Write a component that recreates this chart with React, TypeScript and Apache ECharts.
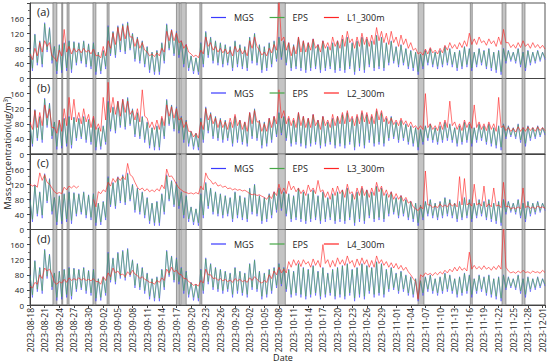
import React, { useEffect, useRef } from "react";
import * as echarts from "echarts";

// time axis: day offset from 2023-08-18 00:00, two samples per day
const startUTC = Date.UTC(2023, 7, 18);
const stepDays = 0.5;
const xMaxDays = 105.5;
const xTickDays = 3;
const yTicks = [0, 40, 80, 120, 160];
const yMax = 200;

const panelLabels = ["(a)", "(b)", "(c)", "(d)"];
const siteNames = ["L1_300m", "L2_300m", "L3_300m", "L4_300m"];

const mgs = [
  80,20, 118,35, 100,30, 148,70, 135,40, 85,12, 90,15, 95,20, 100,15, 98,35,
  95,40, 100,30, 92,25, 95,10, 70,12, 75,25, 140,60, 125,55, 140,70, 145,65,
  150,75, 120,45, 110,40, 100,30, 85,15, 70,10, 75,10, 95,40, 145,75, 130,60,
  125,55, 100,30, 90,20, 60,12, 55,10, 95,30, 125,55, 110,40, 100,35, 95,30,
  90,35, 85,20, 100,30, 90,25, 85,20, 110,40, 120,35, 90,15, 85,20, 95,30,
  100,45, 110,50, 100,35, 95,20, 90,25, 110,20, 100,15, 95,20, 105,25, 90,15,
  100,20, 85,25, 95,15, 100,20, 105,15, 110,25, 95,10, 100,20, 110,15, 105,30,
  100,20, 115,25, 110,20, 95,35, 100,40, 85,30, 90,35, 80,25, 75,20, 70,10,
  65,25, 75,35, 80,30, 70,25, 75,30, 85,35, 80,30, 70,20, 75,25, 85,30,
  80,20, 70,30, 80,35, 75,25, 80,20, 70,15, 75,10, 80,40, 75,45, 70,40,
  80,30, 70,20, 75,35, 70,40, 75,45, 70,50,
];

const eps = [
  78,27, 116,42, 98,38, 145,76, 132,48, 84,20, 88,22, 93,28, 98,24, 96,42,
  93,46, 98,38, 90,32, 93,18, 69,20, 73,32, 137,66, 123,62, 137,76, 142,72,
  147,80, 118,52, 108,47, 98,38, 83,23, 69,18, 73,18, 93,47, 142,80, 128,66,
  122,62, 98,38, 88,28, 59,20, 54,18, 93,38, 122,62, 108,47, 98,42, 93,38,
  88,42, 83,28, 98,38, 88,32, 83,28, 108,47, 118,42, 88,23, 83,28, 93,38,
  98,52, 108,56, 98,42, 93,28, 88,32, 108,28, 98,23, 93,28, 103,32, 88,23,
  98,28, 83,32, 93,23, 98,28, 103,23, 108,32, 93,18, 98,28, 108,23, 103,37,
  98,28, 113,32, 108,28, 93,42, 98,46, 83,37, 88,42, 78,32, 73,28, 69,18,
  64,32, 73,42, 78,37, 69,32, 73,37, 83,42, 78,37, 69,28, 73,32, 83,37,
  78,28, 69,37, 78,42, 73,32, 78,28, 69,23, 73,18, 78,46, 73,50, 69,46,
  78,37, 69,28, 73,42, 69,46, 73,50, 69,55,
];

const l1 = [
  65,50, 80,60, 95,70, 100,85, 95,60, 55,45, 75,60, 130,70, 85,65, 80,70,
  78,68, 80,70, 75,65, 78,60, 62,55, 85,60, 100,80, 120,90, 135,100, 138,105,
  140,110, 110,85, 105,80, 95,75, 70,60, 65,58, 68,60, 80,70, 125,100, 128,100,
  120,95, 100,80, 90,70, 65,58, 62,55, 75,65, 110,85, 95,75, 85,70, 80,68,
  78,65, 75,60, 85,70, 80,65, 75,60, 100,80, 110,85, 75,62, 70,60, 80,68,
  90,75, 210,100, 110,75, 95,60, 85,65, 110,70, 100,70, 95,75, 105,80, 90,70,
  100,80, 95,75, 110,85, 100,80, 115,85, 125,95, 105,80, 110,85, 120,90, 110,85,
  115,90, 135,100, 125,95, 120,90, 125,95, 110,85, 115,90, 105,80, 95,75, 80,65,
  70,62, 78,65, 82,68, 75,65, 80,68, 88,75, 95,80, 90,78, 95,82, 100,85,
  120,90, 105,90, 110,95, 100,88, 105,92, 100,85, 110,90, 130,95, 95,82, 90,80,
  95,82, 100,85, 92,80, 95,82, 90,80, 88,78,
];

const l2 = [
  85,65, 115,70, 110,75, 130,95, 120,70, 70,55, 90,60, 120,75, 150,90, 145,85,
  110,80, 120,85, 105,70, 100,65, 80,60, 150,90, 190,110, 150,105, 140,100, 145,110,
  140,105, 115,90, 120,85, 170,100, 95,70, 85,65, 90,65, 100,75, 130,100, 125,95,
  120,90, 95,70, 85,60, 60,45, 55,42, 85,65, 120,90, 105,80, 95,70, 90,70,
  85,65, 95,70, 105,75, 90,65, 85,60, 110,80, 115,85, 85,60, 80,60, 95,70,
  100,80, 170,95, 115,80, 100,75, 95,70, 110,75, 100,70, 95,70, 105,75, 90,65,
  100,75, 90,70, 105,75, 100,80, 110,80, 115,85, 100,75, 105,80, 115,85, 110,80,
  105,80, 120,90, 115,85, 100,80, 95,78, 90,75, 95,78, 88,72, 85,70, 75,65,
  75,65, 160,70, 80,65, 75,62, 85,65, 90,70, 140,75, 85,65, 80,62, 90,70,
  85,68, 130,70, 85,65, 80,62, 85,65, 80,60, 150,70, 75,62, 70,60, 68,58,
  72,60, 70,60, 72,62, 70,60, 72,62, 70,62,
];

const l3 = [
  120,115, 118,112, 150,130, 145,125, 120,110, 100,95, 98,95, 112,105, 115,110, 116,110,
  115,null, null,null, null,null, 80,60, 100,95, 105,100, 125,115, 135,125, 138,130, 140,132,
  175,145, 140,125, 112,105, 110,102, 108,100, 105,100, 108,102, 118,108, 160,140, 142,132,
  120,110, 105,100, 98,95, 97,94, 98,94, 115,105, 150,135, 130,120, 125,115, 118,112,
  115,108, 110,105, 108,104, 106,102, 104,100, 95,92, 94,90, 92,88, 85,80, 90,82,
  100,90, 120,95, 110,95, 128,105, 115,100, 110,95, 105,90, 118,100, 110,95, 130,100,
  105,85, 100,80, 110,90, 115,95, 105,85, 120,95, 100,80, 110,90, 115,90, 105,85,
  110,90, 125,100, 115,90, 105,85, 100,80, 95,80, 90,75, 85,70, 75,60, 55,50,
  60,55, 155,65, 65,58, 62,58, 68,60, 65,60, 70,62, 68,60, 140,65, 135,65,
  70,62, 120,65, 70,62, 115,60, 68,60, 110,62, 65,58, 125,60, 62,55, 58,55,
  60,55, 110,58, 62,56, 60,55, 62,58, 60,56,
];

const l4 = [
  50,45, 60,55, 80,70, 98,90, 95,80, 60,55, 62,58, 68,60, 72,65, 70,66,
  72,66, 70,65, 68,64, 70,62, 62,55, 75,65, 85,75, 98,85, 90,80, 82,75,
  88,80, 92,82, 78,70, 75,68, 65,60, 60,55, 65,60, 72,65, 95,85, 100,88,
  92,82, 80,70, 70,62, 58,52, 55,50, 65,58, 95,80, 80,70, 72,65, 70,64,
  68,62, 66,60, 70,64, 68,62, 65,60, 72,65, 75,68, 62,58, 65,60, 80,70,
  90,80, 100,85, 95,85, 115,100, 120,105, 118,102, 120,108, 115,100, 122,105, 118,100,
  160,110, 120,100, 118,102, 125,108, 120,105, 130,110, 118,100, 122,105, 125,108, 120,100,
  118,100, 130,110, 120,105, 115,100, 112,98, 110,95, 105,92, 100,88, 80,70, 62,15,
  80,75, 85,80, 84,78, 86,80, 88,82, 92,85, 95,88, 100,90, 102,92, 98,90,
  140,95, 105,95, 102,94, 104,95, 100,92, 102,94, 105,95, 210,100, 90,85, 88,84,
  90,85, 92,86, 88,84, 90,86, 88,84, 92,86,
];

const siteSeries = [l1, l2, l3, l4];

// shaded periods, in day offsets from 2023-08-18
const bandStart = [4.7, 6.5, 7.6, 12.9, 15.8, 30.0, 30.9, 34.8, 50.8, 79.5, 90.2, 96.7, 100.8];
const bandEnd   = [5.5, 6.7, 8.0, 13.5, 16.2, 30.6, 32.0, 35.2, 52.3, 80.7, 90.6, 97.5, 101.4];

const FONT = "'Open Sans', 'Noto Sans', sans-serif";
const COLORS = { mgs: "#3a3aff", eps: "#46a846", site: "#ff2424" };

function fmtDate(v: number): string {
  if (Math.abs(v / xTickDays - Math.round(v / xTickDays)) > 1e-6) return "";
  const d = new Date(startUTC + v * 86400000);
  const m = String(d.getUTCMonth() + 1).padStart(2, "0");
  const day = String(d.getUTCDate()).padStart(2, "0");
  return `${d.getUTCFullYear()}-${m}-${day}`;
}

const toPairs = (arr: (number | null)[]) => arr.map((v, i) => [i * stepDays, v]);

export default function App() {
  const ref = useRef<HTMLDivElement>(null);
  useEffect(() => {
    if (!ref.current) return;
    const chart = echarts.init(ref.current, undefined, { renderer: "svg" });
    const top0 = 3;
    const ph = 75.5;
    const grids: any[] = [];
    const xAxes: any[] = [];
    const yAxes: any[] = [];
    const series: any[] = [];
    const legends: any[] = [];
    const graphics: any[] = [];
    const bands = bandStart.map((s, i) => [{ xAxis: s }, { xAxis: bandEnd[i] }]);
    for (let k = 0; k < 4; k++) {
      const top = top0 + k * ph;
      grids.push({ left: 30, right: 5, top, height: ph, show: true, borderColor: "#555", borderWidth: 1 });
      xAxes.push({
        type: "value", gridIndex: k, min: 0, max: xMaxDays, interval: xTickDays,
        axisLine: { show: true, lineStyle: { color: "#444", width: 1 } },
        axisTick: { show: k === 3, length: 3, lineStyle: { color: "#444" } },
        axisLabel: { show: k === 3, rotate: 90, fontSize: 8.5, color: "#222", fontFamily: FONT, margin: 3, formatter: fmtDate },
        splitLine: { show: false },
      });
      yAxes.push({
        type: "value", gridIndex: k, min: yTicks[0], max: yMax, interval: yTicks[1] - yTicks[0],
        axisLine: { show: true, lineStyle: { color: "#444", width: 1 } },
        axisTick: { show: true, length: 3, lineStyle: { color: "#444" } },
        minorTick: { show: true, splitNumber: 2, length: 2, lineStyle: { color: "#666" } },
        axisLabel: { fontSize: 8, color: "#222", fontFamily: FONT, margin: 6, formatter: (v: number) => (yTicks.includes(v) ? String(v) : "") },
        splitLine: { show: false },
      });
      const common = { type: "line", xAxisIndex: k, yAxisIndex: k, symbol: "none", showSymbol: false, connectNulls: false, z: 3 };
      series.push({
        ...common, name: "MGS", data: toPairs(mgs), color: COLORS.mgs,
        lineStyle: { width: 0.6, color: COLORS.mgs, opacity: 0.9 },
        markArea: { silent: true, z: 1, itemStyle: { color: "#c4c4c4", borderColor: "#666", borderWidth: 0.6 }, data: bands },
      });
      series.push({ ...common, name: "EPS", data: toPairs(eps), color: COLORS.eps, lineStyle: { width: 0.6, color: COLORS.eps, opacity: 1 } });
      series.push({ ...common, name: siteNames[k], data: toPairs(siteSeries[k]), color: COLORS.site, lineStyle: { width: 0.7, color: COLORS.site, opacity: 0.9 } });
      legends.push({
        top: top + 5, left: 206, data: ["MGS", "EPS", siteNames[k]], icon: "rect", itemWidth: 15, itemHeight: 1.2,
        itemGap: 16, selectedMode: false, textStyle: { fontSize: 9, color: "#222", fontFamily: FONT, padding: [0, 0, 0, 3] },
      });
      graphics.push({ type: "text", left: 37, top: top + 3, style: { text: panelLabels[k], fontSize: 11, fill: "#222", fontFamily: FONT } });
    }
    graphics.push({
      type: "text", x: 7, y: 153, rotation: Math.PI / 2,
      style: { text: "Mass concentration(ug/m\u00B3)", fontSize: 9, fill: "#222", fontFamily: FONT, align: "center", verticalAlign: "middle" },
    });
    graphics.push({
      type: "text", x: 283, y: 357,
      style: { text: "Date", fontSize: 9, fill: "#222", fontFamily: FONT, align: "center", verticalAlign: "middle" },
    });
    chart.setOption({
      animation: false,
      backgroundColor: "#fff",
      grid: grids, xAxis: xAxes, yAxis: yAxes, series, legend: legends, graphic: graphics,
    });
    return () => chart.dispose();
  }, []);
  return <div ref={ref} style={{ position: "fixed", left: 0, top: 0, width: 550, height: 364 }} />;
}
